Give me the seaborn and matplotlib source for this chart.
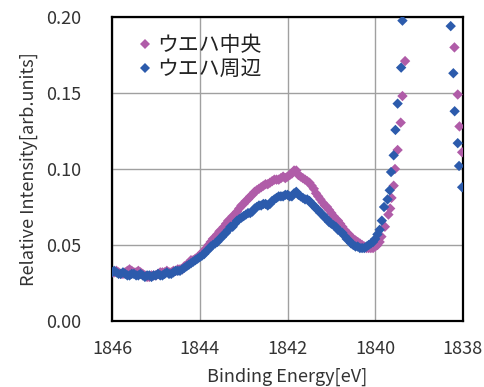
import numpy as np
import pandas as pd
import matplotlib
matplotlib.use("Agg")
import matplotlib.pyplot as plt
import seaborn as sns

# ---- data ----
dense_energy = [
    1846.00, 1845.95, 1845.90, 1845.85, 1845.80, 1845.75, 1845.70, 1845.65, 1845.60, 1845.55,
    1845.50, 1845.45, 1845.40, 1845.35, 1845.30, 1845.25, 1845.20, 1845.15, 1845.10, 1845.05,
    1845.00, 1844.95, 1844.90, 1844.85, 1844.80, 1844.75, 1844.70, 1844.65, 1844.60, 1844.55,
    1844.50, 1844.45, 1844.40, 1844.35, 1844.30, 1844.25, 1844.20, 1844.15, 1844.10, 1844.05,
    1844.00, 1843.95, 1843.90, 1843.85, 1843.80, 1843.75, 1843.70, 1843.65, 1843.60, 1843.55,
    1843.50, 1843.45, 1843.40, 1843.35, 1843.30, 1843.25, 1843.20, 1843.15, 1843.10, 1843.05,
    1843.00, 1842.95, 1842.90, 1842.85, 1842.80, 1842.75, 1842.70, 1842.65, 1842.60, 1842.55,
    1842.50, 1842.45, 1842.40, 1842.35, 1842.30, 1842.25, 1842.20, 1842.15, 1842.10, 1842.05,
    1842.00, 1841.95, 1841.90, 1841.85, 1841.80, 1841.75, 1841.70, 1841.65, 1841.60, 1841.55,
    1841.50, 1841.45, 1841.40, 1841.35, 1841.30, 1841.25, 1841.20, 1841.15, 1841.10, 1841.05,
    1841.00, 1840.95, 1840.90, 1840.85, 1840.80, 1840.75, 1840.70, 1840.65, 1840.60, 1840.55,
    1840.50, 1840.45, 1840.40, 1840.35, 1840.30, 1840.25, 1840.20, 1840.15, 1840.10, 1840.05,
    1840.00, 1839.95, 1839.90]

center_dense = [
    0.032, 0.032, 0.033, 0.032, 0.031, 0.031, 0.032, 0.033, 0.034, 0.033,
    0.032, 0.032, 0.033, 0.032, 0.031, 0.030, 0.029, 0.029, 0.030, 0.030,
    0.030, 0.031, 0.032, 0.032, 0.032, 0.033, 0.032, 0.032, 0.033, 0.033,
    0.034, 0.034, 0.034, 0.036, 0.037, 0.038, 0.040, 0.040, 0.041, 0.042,
    0.043, 0.045, 0.046, 0.048, 0.050, 0.052, 0.054, 0.055, 0.057, 0.059,
    0.060, 0.062, 0.064, 0.066, 0.067, 0.069, 0.070, 0.072, 0.074, 0.076,
    0.077, 0.079, 0.080, 0.082, 0.083, 0.085, 0.086, 0.087, 0.088, 0.089,
    0.090, 0.090, 0.091, 0.092, 0.093, 0.093, 0.093, 0.094, 0.095, 0.094,
    0.095, 0.096, 0.097, 0.099, 0.099, 0.096, 0.095, 0.094, 0.093, 0.092,
    0.091, 0.089, 0.087, 0.084, 0.082, 0.080, 0.078, 0.076, 0.075, 0.073,
    0.071, 0.069, 0.067, 0.066, 0.064, 0.062, 0.060, 0.058, 0.057, 0.055,
    0.054, 0.053, 0.052, 0.051, 0.050, 0.049, 0.048, 0.048, 0.048, 0.048,
    0.049, 0.050, 0.052]

edge_dense = [
    0.032, 0.033, 0.032, 0.031, 0.031, 0.032, 0.031, 0.030, 0.030, 0.031,
    0.031, 0.030, 0.030, 0.031, 0.030, 0.029, 0.030, 0.030, 0.029, 0.030,
    0.030, 0.031, 0.030, 0.030, 0.031, 0.032, 0.031, 0.031, 0.032, 0.033,
    0.033, 0.033, 0.034, 0.035, 0.036, 0.037, 0.038, 0.039, 0.040, 0.041,
    0.042, 0.043, 0.044, 0.046, 0.047, 0.049, 0.050, 0.051, 0.052, 0.054,
    0.055, 0.057, 0.058, 0.060, 0.062, 0.062, 0.064, 0.066, 0.067, 0.068,
    0.069, 0.070, 0.071, 0.071, 0.072, 0.074, 0.075, 0.076, 0.076, 0.077,
    0.077, 0.076, 0.077, 0.079, 0.080, 0.081, 0.082, 0.082, 0.082, 0.083,
    0.083, 0.082, 0.082, 0.084, 0.085, 0.083, 0.082, 0.081, 0.080, 0.080,
    0.079, 0.077, 0.076, 0.074, 0.073, 0.071, 0.070, 0.068, 0.067, 0.065,
    0.064, 0.063, 0.062, 0.060, 0.059, 0.058, 0.056, 0.054, 0.053, 0.051,
    0.050, 0.049, 0.049, 0.048, 0.048, 0.048, 0.049, 0.050, 0.051, 0.052,
    0.054, 0.057, 0.060]

center_rise_energy = [1839.86, 1839.78, 1839.70, 1839.66, 1839.63, 1839.58, 1839.55,
                      1839.49, 1839.42, 1839.38, 1839.32, 1838.195, 1838.12, 1838.08, 1838.02]
center_rise_value = [0.0555, 0.062, 0.070, 0.074, 0.081, 0.089, 0.100,
                     0.1125, 0.1305, 0.148, 0.171, 0.180, 0.149, 0.128, 0.111]

edge_rise_energy = [1839.85, 1839.80, 1839.72, 1839.67, 1839.64, 1839.58, 1839.54,
                    1839.49, 1839.41, 1839.38, 1838.28, 1838.22, 1838.19, 1838.12, 1838.09, 1838.02]
edge_rise_value = [0.066, 0.075, 0.080, 0.086, 0.098, 0.109, 0.1257,
                   0.143, 0.1667, 0.1976, 0.194, 0.163, 0.138, 0.117, 0.102, 0.088]

series_names = ["ウエハ中央", "ウエハ周辺"]
series_colors = ["#B05CA8", "#2C5BAC"]
x_ticks = [1846, 1844, 1842, 1840, 1838]
y_ticks = [0.00, 0.05, 0.10, 0.15, 0.20]
x_label = "Binding Energy[eV]"
y_label = "Relative Intensity[arb.units]"

df = pd.concat([
    pd.DataFrame({"energy": dense_energy + center_rise_energy,
                  "value": center_dense + center_rise_value, "series": series_names[0]}),
    pd.DataFrame({"energy": dense_energy + edge_rise_energy,
                  "value": edge_dense + edge_rise_value, "series": series_names[1]}),
], ignore_index=True)

sns.set_theme(style="white")
plt.rcParams["font.family"] = ["Noto Sans CJK JP", "DejaVu Sans"]

fig = plt.figure(figsize=(4.85, 3.87), dpi=100)
ax = fig.add_axes([112 / 485, 66 / 387, 351 / 485, 304 / 387])

sns.scatterplot(data=df, x="energy", y="value", hue="series",
                palette=dict(zip(series_names, series_colors)),
                marker="D", s=28, linewidth=0, ax=ax, legend=True, zorder=3)

ax.set_xlim(1846, 1838)
ax.set_ylim(0, 0.20)
ax.set_xticks(x_ticks)
ax.set_yticks(y_ticks)
ax.set_xticklabels([str(t) for t in x_ticks])
ax.set_yticklabels([f"{t:.2f}" for t in y_ticks])
ax.grid(True, color="#A0A0A0", linewidth=1.0)
ax.set_axisbelow(True)
for sp in ax.spines.values():
    sp.set_color("black")
    sp.set_linewidth(1.6)
ax.tick_params(axis="both", length=0, labelsize=13, colors="#333333")
ax.tick_params(axis="x", pad=14)
ax.tick_params(axis="y", pad=22)
ax.set_xlabel(x_label, fontsize=13, color="#333333", labelpad=7)
ax.set_ylabel(y_label, fontsize=13, color="#333333", labelpad=6)

leg = ax.legend(loc="upper left", bbox_to_anchor=(0.04, 0.97), frameon=False,
                fontsize=15, handletextpad=0.1, handlelength=1.0,
                labelspacing=0.1, borderaxespad=0, markerscale=0.9)
for t in leg.get_texts():
    t.set_color("#222222")

fig.savefig("out.png", dpi=100)
